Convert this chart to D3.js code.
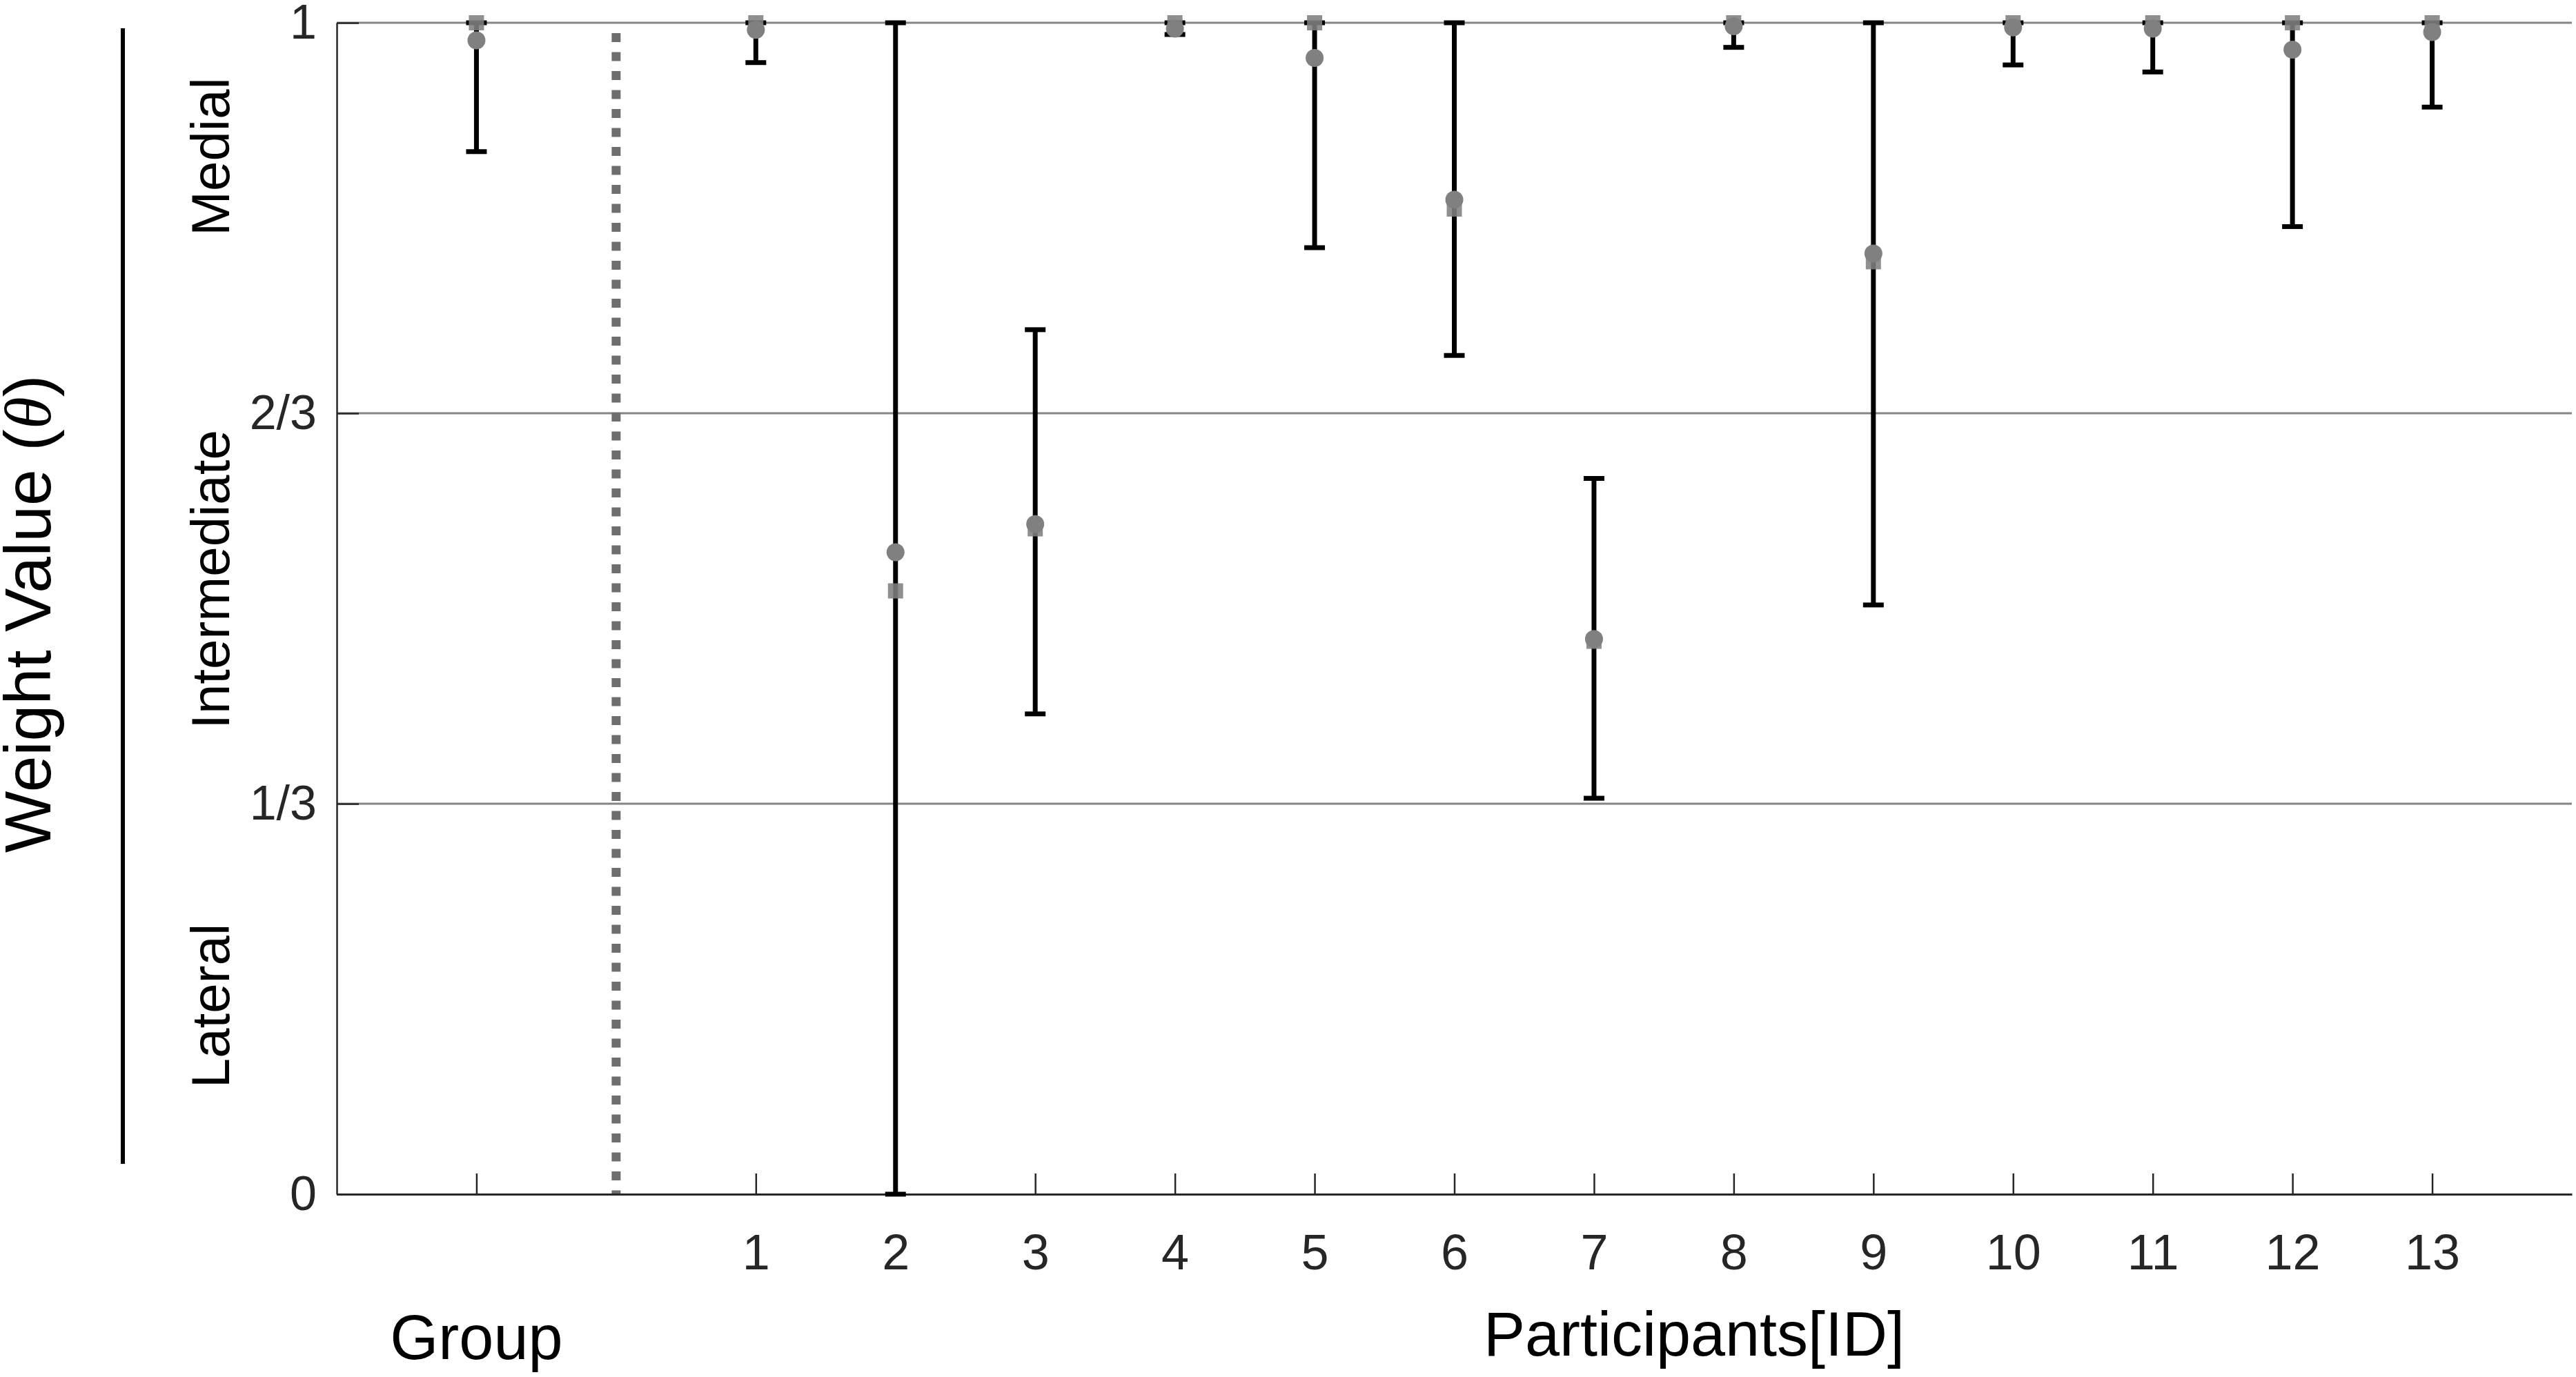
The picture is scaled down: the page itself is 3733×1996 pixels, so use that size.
<!DOCTYPE html>
<html>
<head>
<meta charset="utf-8">
<script src="https://cdn.jsdelivr.net/npm/d3@7"></script>
<style>
  html, body { margin: 0; padding: 0; background: #ffffff; }
  svg { display: block; }
  text { font-family: "Liberation Sans", Arial, Helvetica, sans-serif; }
</style>
</head>
<body>
<svg id="chart" width="3733" height="1996"></svg>
<script>
// ---- data ----
const categories = ["Group", "1", "2", "3", "4", "5", "6", "7", "8", "9", "10", "11", "12", "13"];
const xPositions = [-1, 1, 2, 3, 4, 5, 6, 7, 8, 9, 10, 11, 12, 13];
const meanValues   = [0.985, 0.994, 0.548, 0.572, 0.995, 0.970, 0.849, 0.474, 0.997, 0.803, 0.996, 0.995, 0.977, 0.992];
const medianValues = [1.000, 1.000, 0.515, 0.568, 1.000, 1.000, 0.841, 0.472, 1.000, 0.796, 1.000, 1.000, 1.000, 1.000];
const upperValues  = [1.000, 1.000, 1.000, 0.738, 1.000, 1.000, 1.000, 0.611, 1.000, 1.000, 1.000, 1.000, 1.000, 1.000];
const lowerValues  = [0.890, 0.966, 0.000, 0.410, 0.990, 0.808, 0.716, 0.338, 0.979, 0.503, 0.964, 0.958, 0.826, 0.928];
const yTickValues = [0, 1/3, 2/3, 1];
const yTickLabels = ["0", "1/3", "2/3", "1"];
const gridValues = [1/3, 2/3, 1];
const regionLabels = ["Medial", "Intermediate", "Lateral"];
const separatorX = 0;

// ---- layout ----
const svg = d3.select("#chart");
const x = d3.scaleLinear().domain([-2, 14]).range([488, 3727]);
const y = d3.scaleLinear().domain([0, 1]).range([1731, 33]);
const font = '"Liberation Sans", Arial, Helvetica, sans-serif';

const data = categories.map((c, i) => ({
  label: c, pos: xPositions[i], mean: meanValues[i], median: medianValues[i],
  upper: upperValues[i], lower: lowerValues[i]
}));

// gridlines
svg.append("g").selectAll("line").data(gridValues).join("line")
  .attr("x1", x(-2)).attr("x2", x(14))
  .attr("y1", d => y(d)).attr("y2", d => y(d))
  .attr("stroke", "#858585").attr("stroke-width", 3);

// separator dashed line
svg.append("line")
  .attr("x1", x(separatorX)).attr("x2", x(separatorX))
  .attr("y1", 48).attr("y2", y(0))
  .attr("stroke", "#6e6e6e").attr("stroke-width", 13)
  .attr("stroke-dasharray", "13,14.5");

// y axis
const yAxis = d3.axisLeft(y).tickValues(yTickValues)
  .tickFormat((d, i) => yTickLabels[i])
  .tickSizeInner(-32).tickSizeOuter(0).tickPadding(29);
const gy = svg.append("g").attr("transform", `translate(${x(-2)},0)`).call(yAxis);
gy.select(".domain").attr("stroke", "#262626").attr("stroke-width", 2.5);
gy.selectAll(".tick line").attr("stroke", "#262626").attr("stroke-width", 2.5);
gy.selectAll(".tick text").attr("font-size", 70).attr("font-family", font).attr("fill", "#262626");

// x axis
const xAxis = d3.axisBottom(x).tickValues(xPositions)
  .tickFormat((d, i) => (categories[i] === "Group" ? "" : categories[i]))
  .tickSizeInner(-30).tickSizeOuter(0).tickPadding(58);
const gx = svg.append("g").attr("transform", `translate(0,${y(0)})`).call(xAxis);
gx.select(".domain").attr("stroke", "#262626").attr("stroke-width", 3);
gx.selectAll(".tick line").attr("stroke", "#262626").attr("stroke-width", 2.5);
gx.selectAll(".tick text").attr("font-size", 72).attr("font-family", font).attr("fill", "#262626");

// error bars
const eb = svg.append("g");
eb.selectAll("line.stem").data(data).join("line").attr("class", "stem")
  .attr("x1", d => x(d.pos)).attr("x2", d => x(d.pos))
  .attr("y1", d => y(d.upper)).attr("y2", d => y(d.lower))
  .attr("stroke", "#000").attr("stroke-width", 7);
eb.selectAll("line.capU").data(data).join("line").attr("class", "capU")
  .attr("x1", d => x(d.pos) - 15).attr("x2", d => x(d.pos) + 15)
  .attr("y1", d => y(d.upper)).attr("y2", d => y(d.upper))
  .attr("stroke", "#000").attr("stroke-width", 7);
eb.selectAll("line.capL").data(data).join("line").attr("class", "capL")
  .attr("x1", d => x(d.pos) - 15).attr("x2", d => x(d.pos) + 15)
  .attr("y1", d => y(d.lower)).attr("y2", d => y(d.lower))
  .attr("stroke", "#000").attr("stroke-width", 7);

// markers
svg.append("g").selectAll("rect").data(data).join("rect")
  .attr("x", d => x(d.pos) - 11).attr("y", d => y(d.median) - 11)
  .attr("width", 22).attr("height", 22)
  .attr("fill", "#808080").attr("fill-opacity", 0.88);
svg.append("g").selectAll("circle").data(data).join("circle")
  .attr("cx", d => x(d.pos)).attr("cy", d => y(d.mean)).attr("r", 13)
  .attr("fill", "#808080");

// region labels (rotated)
const regionY = [227, 840, 1458];
regionLabels.forEach((t, i) => {
  svg.append("text")
    .attr("transform", `translate(332,${regionY[i]}) rotate(-90)`)
    .attr("text-anchor", "middle")
    .attr("font-size", 78).attr("font-family", font).attr("fill", "#000")
    .text(t);
});

// y label
const yl = svg.append("text")
  .attr("transform", "translate(73,890) rotate(-90)")
  .attr("text-anchor", "middle")
  .attr("font-size", 95).attr("font-family", font).attr("fill", "#000");
yl.append("tspan").text("Weight Value (");
yl.append("tspan").attr("font-family", '"Liberation Serif", "DejaVu Serif", serif').attr("font-style", "italic").text("θ");
yl.append("tspan").text(")");

// black vertical bar beside y label
svg.append("line")
  .attr("x1", 178).attr("x2", 178).attr("y1", 41).attr("y2", 1687)
  .attr("stroke", "#000").attr("stroke-width", 6);

// x labels
svg.append("text").attr("x", x(-1)).attr("y", 1970)
  .attr("text-anchor", "middle").attr("font-size", 90).attr("font-family", font).attr("fill", "#000")
  .text("Group");
svg.append("text").attr("x", 2455).attr("y", 1965)
  .attr("text-anchor", "middle").attr("font-size", 90).attr("font-family", font).attr("fill", "#000")
  .text("Participants[ID]");
</script>
</body>
</html>
